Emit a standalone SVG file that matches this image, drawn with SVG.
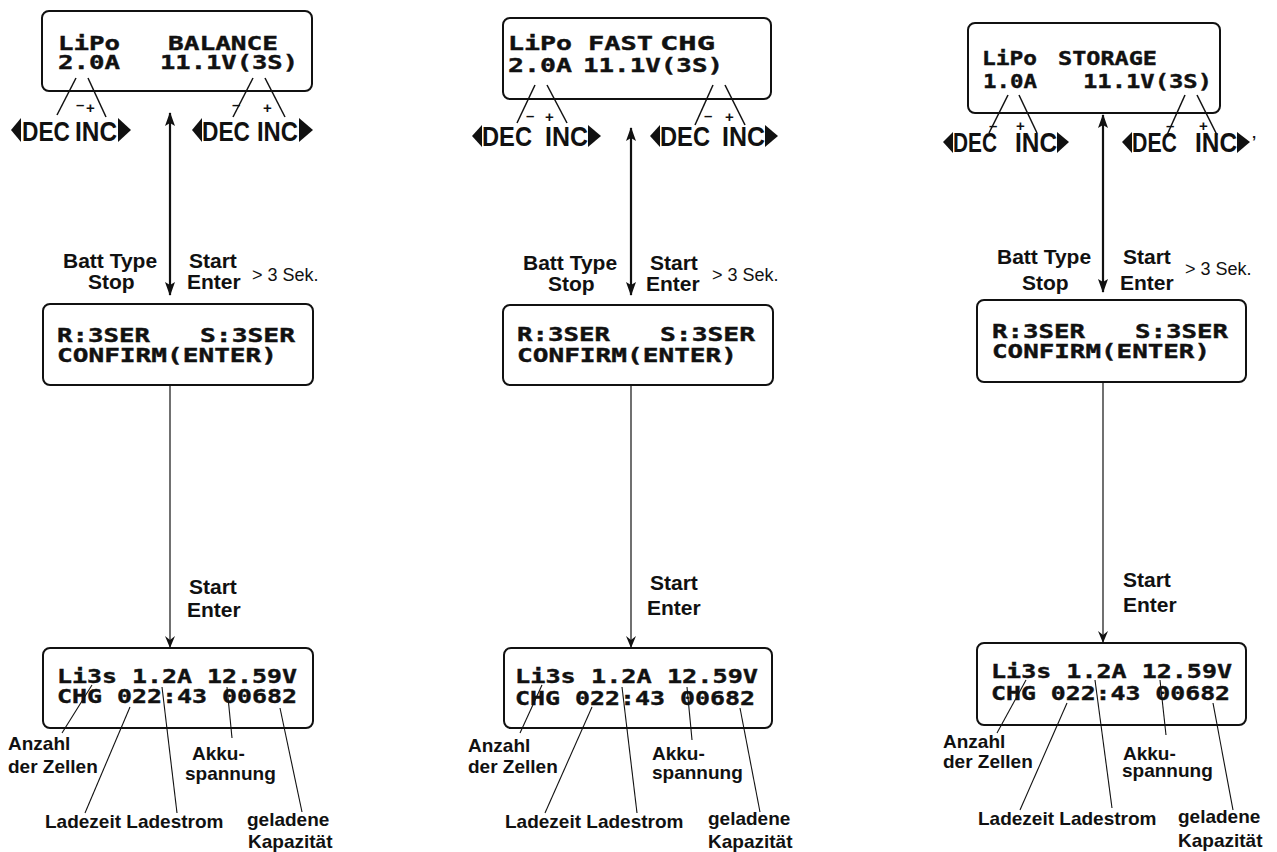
<svg xmlns="http://www.w3.org/2000/svg" width="1277" height="852" viewBox="0 0 1277 852">
<style>
.box{fill:#fff;stroke:#111;stroke-width:2}
.lcd{font-family:"DejaVu Sans Mono","Liberation Mono",monospace;font-weight:bold;font-size:20px;fill:#111;stroke:#111;stroke-width:0.4}
.lbl{font-family:"Liberation Sans",Arial,sans-serif;font-weight:bold;font-size:21px;fill:#111}
.sm{font-family:"Liberation Sans",Arial,sans-serif;font-size:18px;fill:#111}
.ann{font-family:"Liberation Sans",Arial,sans-serif;font-weight:bold;font-size:19px;fill:#111}
.btn{font-family:"Liberation Sans",Arial,sans-serif;font-weight:bold;font-size:27px;fill:#111}
.pm{font-family:"Liberation Sans",Arial,sans-serif;font-weight:bold;font-size:15px;fill:#111}
.tri{fill:#111}
.ld{stroke:#111;stroke-width:1.5;fill:none}
.lt{stroke:#111;stroke-width:1.1;fill:none}
.dbl{stroke:#111;stroke-width:2.2;fill:none;marker-start:url(#ah);marker-end:url(#ah)}
.one{stroke:#111;stroke-width:1.2;fill:none;marker-end:url(#ah2)}
</style>
<defs>
<marker id="ah" viewBox="0 0 14 10" refX="13" refY="5" markerWidth="14" markerHeight="10" markerUnits="userSpaceOnUse" orient="auto-start-reverse">
<path d="M0,0 L14,5 L0,10 L3,5 z" fill="#111"/>
</marker>
<marker id="ah2" viewBox="0 0 12 10" refX="12" refY="5" markerWidth="12" markerHeight="10" markerUnits="userSpaceOnUse" orient="auto">
<path d="M0,0 L12,5 L0,10 L4,5 z" fill="#111"/>
</marker>
</defs>
<rect width="1277" height="852" fill="#fff"/>

<!-- Column 1 -->
<g id="c1-top">
<rect class="box" x="42" y="11" width="270" height="80" rx="7"/>
<text class="lcd" x="58" y="50" textLength="62" lengthAdjust="spacingAndGlyphs">LiPo</text>
<text class="lcd" x="168" y="50" textLength="110" lengthAdjust="spacingAndGlyphs">BALANCE</text>
<text class="lcd" x="58" y="69" textLength="62" lengthAdjust="spacingAndGlyphs">2.0A</text>
<text class="lcd" x="160" y="69" textLength="138" lengthAdjust="spacingAndGlyphs">11.1V(3S)</text>
</g>
<g id="c1-btn-left">
<polygon class="tri" points="21,118 21,142 11,130"/>
<text class="btn" x="22" y="141" textLength="48" lengthAdjust="spacingAndGlyphs">DEC</text>
<text class="btn" x="75" y="141" textLength="42" lengthAdjust="spacingAndGlyphs">INC</text>
<polygon class="tri" points="118,118 118,142 131,130"/>
<text class="pm" x="76" y="110">–</text>
<text class="pm" x="86" y="113">+</text>
</g>
<g id="c1-btn-right">
<polygon class="tri" points="202,118 202,142 192,130"/>
<text class="btn" x="202" y="141" textLength="48" lengthAdjust="spacingAndGlyphs">DEC</text>
<text class="btn" x="257" y="141" textLength="41" lengthAdjust="spacingAndGlyphs">INC</text>
<polygon class="tri" points="299,118 299,142 313,130"/>
<text class="pm" x="232" y="110">–</text>
<text class="pm" x="263" y="113">+</text>
</g>
<g id="c1-keys">
<text class="lbl" x="63" y="268">Batt Type</text>
<text class="lbl" x="88" y="289">Stop</text>
<text class="lbl" x="189" y="268">Start</text>
<text class="lbl" x="187" y="289">Enter</text>
<text class="sm" x="252" y="281">&gt; 3 Sek.</text>
</g>
<g id="c1-mid">
<rect class="box" x="43" y="304" width="270" height="81" rx="7"/>
<text class="lcd" x="57" y="342" textLength="93" lengthAdjust="spacingAndGlyphs">R:3SER</text>
<text class="lcd" x="200" y="342" textLength="95" lengthAdjust="spacingAndGlyphs">S:3SER</text>
<text class="lcd" x="57" y="362" textLength="220" lengthAdjust="spacingAndGlyphs">CONFIRM(ENTER)</text>
</g>
<g id="c1-start">
<text class="lbl" x="189" y="594">Start</text>
<text class="lbl" x="187" y="617">Enter</text>
</g>
<g id="c1-bot">
<rect class="box" x="43" y="648" width="270" height="80" rx="7"/>
<text class="lcd" x="57" y="683" textLength="240" lengthAdjust="spacingAndGlyphs">Li3s 1.2A 12.59V</text>
<text class="lcd" x="57" y="703" textLength="240" lengthAdjust="spacingAndGlyphs">CHG 022:43 00682</text>
</g>
<g id="c1-ann">
<text class="ann" x="8" y="750">Anzahl</text>
<text class="ann" x="8" y="773">der Zellen</text>
<text class="ann" x="192" y="760">Akku-</text>
<text class="ann" x="185" y="780">spannung</text>
<text class="ann" x="45" y="828">Ladezeit Ladestrom</text>
<text class="ann" x="247" y="826">geladene</text>
<text class="ann" x="248" y="848">Kapazität</text>
</g>

<!-- Column 2 -->
<g id="c2-top">
<rect class="box" x="503" y="18" width="268" height="81" rx="7"/>
<text class="lcd" x="508" y="50" textLength="64" lengthAdjust="spacingAndGlyphs">LiPo</text>
<text class="lcd" x="588" y="50" textLength="65" lengthAdjust="spacingAndGlyphs">FAST</text>
<text class="lcd" x="660" y="50" textLength="55" lengthAdjust="spacingAndGlyphs">CHG</text>
<text class="lcd" x="508" y="72" textLength="64" lengthAdjust="spacingAndGlyphs">2.0A</text>
<text class="lcd" x="583" y="72" textLength="140" lengthAdjust="spacingAndGlyphs">11.1V(3S)</text>
</g>
<g id="c2-btn-left">
<polygon class="tri" points="482,125 482,147 472,136"/>
<text class="btn" x="482" y="146" textLength="50" lengthAdjust="spacingAndGlyphs">DEC</text>
<text class="btn" x="545" y="146" textLength="43" lengthAdjust="spacingAndGlyphs">INC</text>
<polygon class="tri" points="588,125 588,147 601,136"/>
<text class="pm" x="526" y="121">–</text>
<text class="pm" x="545" y="122">+</text>
</g>
<g id="c2-btn-right">
<polygon class="tri" points="660,125 660,147 650,136"/>
<text class="btn" x="660" y="146" textLength="50" lengthAdjust="spacingAndGlyphs">DEC</text>
<text class="btn" x="722" y="146" textLength="43" lengthAdjust="spacingAndGlyphs">INC</text>
<polygon class="tri" points="765,125 765,147 778,136"/>
<text class="pm" x="704" y="121">–</text>
<text class="pm" x="725" y="122">+</text>
</g>
<g id="c2-keys">
<text class="lbl" x="523" y="270">Batt Type</text>
<text class="lbl" x="548" y="291">Stop</text>
<text class="lbl" x="650" y="270">Start</text>
<text class="lbl" x="646" y="291">Enter</text>
<text class="sm" x="712" y="281">&gt; 3 Sek.</text>
</g>
<g id="c2-mid">
<rect class="box" x="503" y="305" width="270" height="80" rx="7"/>
<text class="lcd" x="517" y="341" textLength="93" lengthAdjust="spacingAndGlyphs">R:3SER</text>
<text class="lcd" x="660" y="341" textLength="95" lengthAdjust="spacingAndGlyphs">S:3SER</text>
<text class="lcd" x="517" y="362" textLength="220" lengthAdjust="spacingAndGlyphs">CONFIRM(ENTER)</text>
</g>
<g id="c2-start">
<text class="lbl" x="650" y="590">Start</text>
<text class="lbl" x="647" y="615">Enter</text>
</g>
<g id="c2-bot">
<rect class="box" x="504" y="648" width="268" height="80" rx="7"/>
<text class="lcd" x="515" y="683" textLength="243" lengthAdjust="spacingAndGlyphs">Li3s 1.2A 12.59V</text>
<text class="lcd" x="515" y="705" textLength="240" lengthAdjust="spacingAndGlyphs">CHG 022:43 00682</text>
</g>
<g id="c2-ann">
<text class="ann" x="468" y="752">Anzahl</text>
<text class="ann" x="468" y="773">der Zellen</text>
<text class="ann" x="652" y="760">Akku-</text>
<text class="ann" x="652" y="779">spannung</text>
<text class="ann" x="505" y="828">Ladezeit Ladestrom</text>
<text class="ann" x="708" y="825">geladene</text>
<text class="ann" x="708" y="848">Kapazität</text>
</g>

<!-- Column 3 -->
<g id="c3-top">
<rect class="box" x="968" y="23" width="252" height="90" rx="7"/>
<text class="lcd" x="982" y="65" textLength="55" lengthAdjust="spacingAndGlyphs">LiPo</text>
<text class="lcd" x="1058" y="65" textLength="99" lengthAdjust="spacingAndGlyphs">STORAGE</text>
<text class="lcd" x="983" y="88" textLength="54" lengthAdjust="spacingAndGlyphs">1.0A</text>
<text class="lcd" x="1083" y="88" textLength="129" lengthAdjust="spacingAndGlyphs">11.1V(3S)</text>
</g>
<g id="c3-btn-left">
<polygon class="tri" points="953,132 953,153 943,142"/>
<text class="btn" x="953" y="152" textLength="44" lengthAdjust="spacingAndGlyphs">DEC</text>
<text class="btn" x="1015" y="152" textLength="42" lengthAdjust="spacingAndGlyphs">INC</text>
<polygon class="tri" points="1057,132 1057,153 1069,142"/>
<text class="pm" x="989" y="131">–</text>
<text class="pm" x="1016" y="131">+</text>
</g>
<g id="c3-btn-right">
<polygon class="tri" points="1132,132 1132,153 1122,142"/>
<text class="btn" x="1132" y="152" textLength="45" lengthAdjust="spacingAndGlyphs">DEC</text>
<text class="btn" x="1195" y="152" textLength="42" lengthAdjust="spacingAndGlyphs">INC</text>
<polygon class="tri" points="1237,132 1237,153 1250,142"/>
<text class="pm" x="1166" y="131">–</text>
<text class="pm" x="1199" y="131">+</text>
<text class="pm" x="1252" y="146">’</text>
</g>
<g id="c3-keys">
<text class="lbl" x="997" y="264">Batt Type</text>
<text class="lbl" x="1022" y="290">Stop</text>
<text class="lbl" x="1123" y="264">Start</text>
<text class="lbl" x="1120" y="290">Enter</text>
<text class="sm" x="1185" y="275">&gt; 3 Sek.</text>
</g>
<g id="c3-mid">
<rect class="box" x="977" y="300" width="269" height="82" rx="7"/>
<text class="lcd" x="992" y="338" textLength="93" lengthAdjust="spacingAndGlyphs">R:3SER</text>
<text class="lcd" x="1135" y="338" textLength="93" lengthAdjust="spacingAndGlyphs">S:3SER</text>
<text class="lcd" x="992" y="358" textLength="218" lengthAdjust="spacingAndGlyphs">CONFIRM(ENTER)</text>
</g>
<g id="c3-start">
<text class="lbl" x="1123" y="587">Start</text>
<text class="lbl" x="1123" y="612">Enter</text>
</g>
<g id="c3-bot">
<rect class="box" x="977" y="643" width="269" height="82" rx="7"/>
<text class="lcd" x="991" y="678" textLength="241" lengthAdjust="spacingAndGlyphs">Li3s 1.2A 12.59V</text>
<text class="lcd" x="991" y="700" textLength="239" lengthAdjust="spacingAndGlyphs">CHG 022:43 00682</text>
</g>
<g id="c3-ann">
<text class="ann" x="943" y="748">Anzahl</text>
<text class="ann" x="943" y="768">der Zellen</text>
<text class="ann" x="1123" y="760">Akku-</text>
<text class="ann" x="1122" y="777">spannung</text>
<text class="ann" x="978" y="825">Ladezeit Ladestrom</text>
<text class="ann" x="1178" y="823">geladene</text>
<text class="ann" x="1178" y="847">Kapazität</text>
</g>

<g id="connectors">
<!-- column 1 -->
<line class="dbl" x1="170" y1="113" x2="170" y2="295"/>
<line class="one" x1="170" y1="385" x2="170" y2="648"/>
<line class="ld" x1="76" y1="78" x2="57" y2="115"/>
<line class="ld" x1="88" y1="78" x2="106" y2="117"/>
<line class="ld" x1="253" y1="78" x2="233" y2="117"/>
<line class="ld" x1="265" y1="78" x2="285" y2="117"/>
<line class="lt" x1="92" y1="685" x2="62" y2="733"/>
<line class="lt" x1="130" y1="707" x2="85" y2="813"/>
<line class="lt" x1="162" y1="687" x2="177" y2="813"/>
<line class="lt" x1="227" y1="687" x2="232" y2="738"/>
<line class="lt" x1="280" y1="708" x2="302" y2="812"/>
<!-- column 2 -->
<line class="dbl" x1="631" y1="128" x2="631" y2="295"/>
<line class="one" x1="631" y1="385" x2="631" y2="648"/>
<line class="ld" x1="535" y1="85" x2="517" y2="123"/>
<line class="ld" x1="547" y1="85" x2="567" y2="123"/>
<line class="ld" x1="713" y1="85" x2="695" y2="125"/>
<line class="ld" x1="725" y1="85" x2="745" y2="125"/>
<line class="lt" x1="542" y1="685" x2="520" y2="733"/>
<line class="lt" x1="592" y1="707" x2="545" y2="813"/>
<line class="lt" x1="622" y1="687" x2="637" y2="813"/>
<line class="lt" x1="687" y1="687" x2="692" y2="740"/>
<line class="lt" x1="740" y1="708" x2="760" y2="812"/>
<!-- column 3 -->
<line class="dbl" x1="1103" y1="115" x2="1103" y2="292"/>
<line class="one" x1="1103" y1="382" x2="1103" y2="643"/>
<line class="ld" x1="1008" y1="95" x2="989" y2="133"/>
<line class="ld" x1="1019" y1="95" x2="1037" y2="133"/>
<line class="ld" x1="1185" y1="95" x2="1167" y2="135"/>
<line class="ld" x1="1197" y1="95" x2="1217" y2="135"/>
<line class="lt" x1="1026" y1="680" x2="997" y2="733"/>
<line class="lt" x1="1067" y1="703" x2="1020" y2="810"/>
<line class="lt" x1="1095" y1="680" x2="1112" y2="808"/>
<line class="lt" x1="1160" y1="680" x2="1166" y2="735"/>
<line class="lt" x1="1213" y1="703" x2="1233" y2="810"/>
</g>
</svg>
